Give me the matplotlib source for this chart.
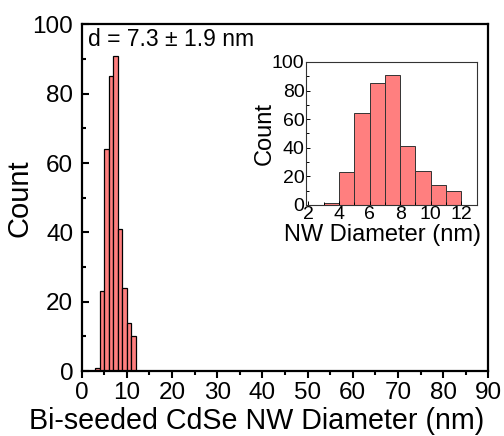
import matplotlib.pyplot as plt
from matplotlib.ticker import MultipleLocator

# histogram of nanowire diameters (1 nm bins)
bin_edges = [3, 4, 5, 6, 7, 8, 9, 10, 11, 12]
counts = [1, 23, 64, 85, 91, 41, 24, 14, 10]
stats_label = "d = 7.3 \u00b1 1.9 nm"

plt.rcParams["font.family"] = ["Liberation Sans", "DejaVu Sans"]

BAR_COLOR = "#ff7f7f"

fig = plt.figure(figsize=(5.04, 4.36), dpi=100)
ax = fig.add_axes([0.162, 0.149, 0.807, 0.795])

left = bin_edges[:-1]
widths = [b - a for a, b in zip(bin_edges[:-1], bin_edges[1:])]
ax.bar(left, counts, width=widths, align="edge", color=BAR_COLOR,
       edgecolor="black", linewidth=0.9)

ax.set_xlim(0, 90)
ax.set_ylim(0, 100)
ax.xaxis.set_major_locator(MultipleLocator(10))
ax.xaxis.set_minor_locator(MultipleLocator(5))
ax.yaxis.set_major_locator(MultipleLocator(20))
ax.yaxis.set_minor_locator(MultipleLocator(10))
for side in ax.spines.values():
    side.set_linewidth(1.6)
ax.tick_params(axis="x", which="major", direction="out", length=5, width=1.5,
               labelsize=17.5, pad=3)
ax.tick_params(axis="x", which="minor", direction="out", length=3, width=1.5)
ax.tick_params(axis="y", which="major", direction="in", length=5, width=1.5,
               labelsize=17.5, pad=6)
ax.tick_params(axis="y", which="minor", direction="in", length=3, width=1.5)
ax.set_xlabel("Bi-seeded CdSe NW Diameter (nm)", fontsize=20.6)
ax.xaxis.set_label_coords(0.429, -0.104)
ax.set_ylabel("Count", fontsize=21)
ax.yaxis.set_label_coords(-0.118, 0.5)
ax.text(0.016, 0.99, stats_label, transform=ax.transAxes, fontsize=16.5,
        ha="left", va="top")

# inset with zoomed histogram
ins = fig.add_axes([0.607, 0.530, 0.339, 0.328])
ins.bar(left, counts, width=widths, align="edge", color=BAR_COLOR,
        edgecolor="#333333", linewidth=0.7)
ins.set_xlim(1.85, 13)
ins.set_ylim(0, 100)
ins.xaxis.set_major_locator(MultipleLocator(2))
ins.xaxis.set_minor_locator(MultipleLocator(1))
ins.yaxis.set_major_locator(MultipleLocator(20))
ins.yaxis.set_minor_locator(MultipleLocator(10))
for side in ins.spines.values():
    side.set_linewidth(0.8)
    side.set_color("#333333")
ins.tick_params(which="major", direction="in", length=3, width=0.7,
                labelsize=14, pad=1)
ins.tick_params(which="minor", direction="in", length=2, width=0.7)
ins.set_xlabel("NW Diameter (nm)", fontsize=17)
ins.xaxis.set_label_coords(0.45, -0.13)
ins.set_ylabel("Count", fontsize=17)
ins.yaxis.set_label_coords(-0.175, 0.5)

fig.savefig("out.png", dpi=100)
